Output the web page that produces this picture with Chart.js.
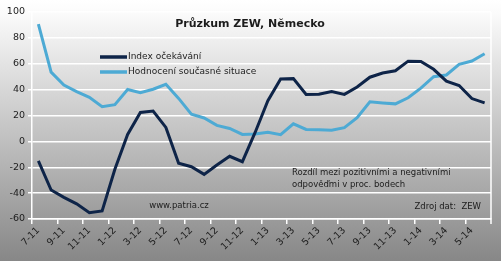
<!DOCTYPE html>
<html>
<head>
<meta charset="utf-8">
<script src="https://cdn.jsdelivr.net/npm/chart.js@4"></script>
<style>
    body { margin: 0; background: #fff; }
    #wrap { width: 501px; height: 261px; }
</style>
</head>
<body>
<div id="wrap"><canvas id="canvas" width="501" height="261"></canvas></div>
<script>
// data (ZEW Germany, monthly)
const months = ['7-11', '8-11', '9-11', '10-11', '11-11', '12-11',
    '1-12', '2-12', '3-12', '4-12', '5-12', '6-12', '7-12', '8-12', '9-12', '10-12', '11-12', '12-12',
    '1-13', '2-13', '3-13', '4-13', '5-13', '6-13', '7-13', '8-13', '9-13', '10-13', '11-13', '12-13',
    '1-14', '2-14', '3-14', '4-14', '5-14', '6-14'];
const expectations = [-15.1, -37.6, -43.3, -48.3, -55.2, -53.8,
    -21.6, 5.4, 22.3, 23.4, 10.8, -16.9, -19.6, -25.5, -18.2, -11.5, -15.7, 6.9,
    31.5, 48.2, 48.5, 36.3, 36.4, 38.5, 36.3, 42.0, 49.6, 52.8, 54.6, 62.0,
    61.7, 55.7, 46.6, 43.2, 33.1, 29.8];
const currentSituation = [90.6, 53.5, 43.6, 38.4, 34.0, 26.8,
    28.4, 40.1, 37.6, 40.3, 44.1, 33.2, 21.1, 18.1, 12.4, 10.0, 5.4, 5.7,
    7.1, 5.2, 13.6, 9.2, 8.9, 8.6, 10.6, 18.3, 30.6, 29.7, 29.0, 33.7,
    41.2, 50.0, 51.3, 59.5, 62.1, 67.7];
const seriesNames = ['Index očekávání', 'Hodnocení současné situace'];
const yTicks = [-60, -40, -20, 0, 20, 40, 60, 80, 100];

const title = 'Průzkum ZEW, Německo';
const note = ['Rozdíl mezi pozitivními a negativními', 'odpověďmi v proc. bodech'];
const source = 'Zdroj dat:  ZEW';
const web = 'www.patria.cz';

const darkBlue = '#0e2448';
const lightBlue = '#4daad4';
const textColor = '#1c1c1c';
const font = '"DejaVu Sans", Verdana, sans-serif';

// background + plot frame
const decor = {
    id: 'decor',
    beforeDraw(chart) {
        const ctx = chart.ctx;
        const g = ctx.createLinearGradient(0, 0, 0, chart.height);
        g.addColorStop(0, '#ffffff');
        g.addColorStop(0.05, '#fbfbfb');
        g.addColorStop(1, '#878787');
        ctx.save();
        ctx.fillStyle = g;
        ctx.fillRect(0, 0, chart.width, chart.height);
        ctx.restore();
    },
    afterDraw(chart) {
        const ctx = chart.ctx;
        const a = chart.chartArea;
        ctx.save();
        // right border of the plot
        ctx.strokeStyle = '#ffffff';
        ctx.lineWidth = 1.5;
        ctx.beginPath();
        ctx.moveTo(a.right, a.top);
        ctx.lineTo(a.right, a.bottom + 5);
        ctx.stroke();

        // title
        ctx.fillStyle = textColor;
        ctx.font = 'bold 11px ' + font;
        ctx.textAlign = 'center';
        ctx.textBaseline = 'middle';
        ctx.fillText(title, 250, 24);

        // legend
        const colors = [darkBlue, lightBlue];
        ctx.font = '9px ' + font;
        ctx.textAlign = 'left';
        for (let i = 0; i < seriesNames.length; i++) {
            const y = 57 + i * 15;
            ctx.strokeStyle = colors[i];
            ctx.lineWidth = 3.5;
            ctx.beginPath();
            ctx.moveTo(100, y);
            ctx.lineTo(127, y);
            ctx.stroke();
            ctx.fillStyle = textColor;
            ctx.fillText(seriesNames[i], 128, y);
        }

        // notes
        ctx.font = '8.5px ' + font;
        ctx.fillText(note[0], 292, 173);
        ctx.fillText(note[1], 292, 185);
        ctx.textAlign = 'right';
        ctx.fillText(source, 481, 207);
        ctx.textAlign = 'center';
        ctx.fillText(web, 179, 206);
        ctx.restore();
    }
};

const canvas = document.getElementById('canvas');
const myChart = new Chart(canvas.getContext('2d'), {
    type: 'line',
    data: {
        labels: months,
        datasets: [{
            label: seriesNames[0],
            data: expectations,
            borderColor: darkBlue,
            backgroundColor: darkBlue,
            borderWidth: 3,
            pointRadius: 0,
            tension: 0
        }, {
            label: seriesNames[1],
            data: currentSituation,
            borderColor: lightBlue,
            backgroundColor: lightBlue,
            borderWidth: 3,
            pointRadius: 0,
            tension: 0
        }]
    },
    options: {
        responsive: false,
        animation: false,
        layout: { padding: { top: 12, right: 10, left: 0, bottom: 0 } },
        plugins: {
            legend: { display: false },
            title: { display: false },
            tooltip: { enabled: false }
        },
        scales: {
            x: {
                offset: true,
                grid: {
                    offset: true,
                    drawOnChartArea: false,
                    tickLength: 5,
                    lineWidth: 1.5,
                    color: c => (c.index % 2 === 0 ? '#ffffff' : 'rgba(0,0,0,0)')
                },
                border: { color: '#ffffff', width: 1.5 },
                ticks: {
                    autoSkip: false,
                    maxRotation: 45,
                    minRotation: 45,
                    padding: 1,
                    color: textColor,
                    font: { family: font, size: 9.5 },
                    callback: (v, i) => (i % 2 === 0 ? months[i] : '')
                },
                afterFit: s => { s.height = 42; }
            },
            y: {
                min: yTicks[0],
                max: yTicks[yTicks.length - 1],
                afterBuildTicks: s => { s.ticks = yTicks.map(v => ({ value: v })); },
                grid: { color: '#ffffff', lineWidth: 1.5, tickLength: 4 },
                border: { color: '#ffffff', width: 1.5 },
                ticks: {
                    padding: 3,
                    color: textColor,
                    font: { family: font, size: 9.5 }
                },
                afterFit: s => { s.width = 32; }
            }
        }
    },
    plugins: [decor]
});
</script>
</body>
</html>
